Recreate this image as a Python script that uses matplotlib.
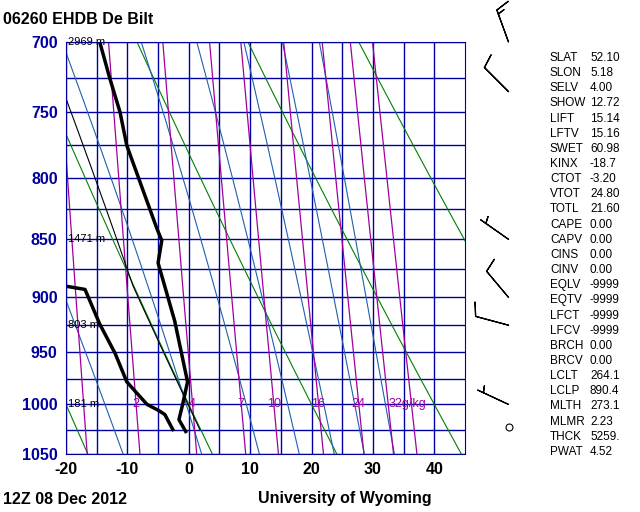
import numpy as np
import matplotlib
matplotlib.use('Agg')
import matplotlib.pyplot as plt
from matplotlib.ticker import NullLocator

plt.rcParams['font.family'] = ['Liberation Sans', 'DejaVu Sans']

# sounding (hPa, degC)
t_pres = [1027, 1015, 1000, 978, 921, 870, 851, 841, 775, 750, 725, 700]
t_temp = [-0.5, -1.6, -1.0, -0.2, -2.3, -5.0, -4.4, -5.2, -10.1, -11.2, -12.9, -14.5]
td_pres = [1025, 1010, 1006, 1000, 990, 978, 951, 924, 893, 890, 888]
td_temp = [-2.6, -3.9, -4.9, -6.8, -8.3, -10.1, -12.0, -14.5, -16.9, -20.2, -30.0]

# parcel
sfc_p, sfc_t, lcl_p = 1025, 1.8, 890.4

height_pres = [700, 850, 925, 1000]
height_text = ['2969 m', '1471 m', '803 m', '181 m']

wind_pres = [700, 735, 850, 900, 925, 1000]
wind_dir = [340, 315, 305, 320, 285, 295]
wind_spd = [15, 10, 5, 10, 10, 5]
calm_pres = 1022

theta_c = [-40, -20, 0, 20, 40, 60, 80]          # dry adiabats
moist_start = [-10.7, 2.1, 11.5, 18.0, 23.7, 28.6, 33.5]  # moist adiabats, T at 1050
mix_ratios = [1, 2, 4, 7, 10, 16, 24, 32, 40]      # g/kg
mix_labels = [2, 4, 7, 10, 16, 24, 32]

indices = ['SLAT', 'SLON', 'SELV', 'SHOW', 'LIFT', 'LFTV', 'SWET', 'KINX', 'CTOT',
           'VTOT', 'TOTL', 'CAPE', 'CAPV', 'CINS', 'CINV', 'EQLV', 'EQTV', 'LFCT',
           'LFCV', 'BRCH', 'BRCV', 'LCLT', 'LCLP', 'MLTH', 'MLMR', 'THCK', 'PWAT']
values = ['52.10', '5.18', '4.00', '12.72', '15.14', '15.16', '60.98', '-18.7', '-3.20',
          '24.80', '21.60', '0.00', '0.00', '0.00', '0.00', '-9999', '-9999', '-9999',
          '-9999', '0.00', '0.00', '264.1', '890.4', '273.1', '2.23', '5259.', '4.52']

NAVY = '#0000a0'
Rd, cp, Lv, eps = 287.04, 1005.7, 2.501e6, 0.622


def rsat(tc, p):
    e = 6.112 * np.exp(17.67 * tc / (tc + 243.5))
    return eps * e / (p - e)


def moist_line(t0, p0, p1, n=400):
    ps = np.linspace(p0, p1, n)
    ts = [t0]
    for i in range(1, n):
        T = ts[-1] + 273.15
        rs = rsat(ts[-1], ps[i - 1])
        dtdp = (Rd * T + Lv * rs) / (ps[i - 1] * (cp + Lv**2 * rs * eps / (Rd * T**2)))
        ts.append(ts[-1] + dtdp * (ps[i] - ps[i - 1]))
    return ps, np.array(ts)


fig = plt.figure(figsize=(6.4, 5.12), dpi=100)
ax = fig.add_axes([66/640, 1-454/512, 399/640, 412/512])
ax.set_yscale('log')
ax.set_ylim(1050, 700)
ax.set_xlim(-20, 45)

p = np.linspace(1050, 700, 200)
for th in theta_c:
    ax.plot((th + 273.15) * (p / 1000) ** 0.286 - 273.15, p, color='#008000', lw=0.8)
for t0 in moist_start:
    pm, tm = moist_line(t0, 1050, 700)
    ax.plot(tm, pm, color='#1f5fb0', lw=0.8)
for w in mix_ratios:
    e = w / 1000 * p / (eps + w / 1000)
    a = np.log(e / 6.112)
    ax.plot(243.5 * a / (17.67 - a), p, color='#a000a0', lw=0.9)
for w in mix_labels:
    e = w / 1000 * 1000 / (eps + w / 1000)
    a = np.log(e / 6.112)
    txt = '%d' % w if w != 32 else '32g/kg'
    ax.text(243.5 * a / (17.67 - a), 1000, txt, color='#a000a0', fontsize=9,
            ha='center' if w != 32 else 'left', va='center')

# parcel path
pd_ = np.linspace(sfc_p, lcl_p, 50)
td_ = (sfc_t + 273.15) * (pd_ / sfc_p) ** 0.286 - 273.15
pm, tm = moist_line(td_[-1], lcl_p, 700)
ax.plot(np.concatenate([td_, tm]), np.concatenate([pd_, pm]), color='black', lw=0.8)

ax.plot(t_temp, t_pres, color='black', lw=2.5)
ax.plot(td_temp, td_pres, color='black', lw=2.5)

for hp, ht in zip(height_pres, height_text):
    ax.text(-19.7, hp, ht, fontsize=8, va='center', ha='left')

ax.set_yticks(range(700, 1051, 25))
ax.yaxis.set_minor_locator(NullLocator())
ax.grid(True, color=NAVY, lw=1)
ax.set_xticks(range(-20, 45, 5))
ax.set_xticklabels([str(v) if v % 10 == 0 else '' for v in range(-20, 45, 5)],
                   fontsize=11.5, fontweight='bold')
ax.set_yticklabels([str(v) if v % 50 == 0 else '' for v in range(700, 1051, 25)],
                   fontsize=11.5, fontweight='bold', color=NAVY)
ax.tick_params(length=0, pad=6)
for s in ax.spines.values():
    s.set_color(NAVY)

# wind barbs
bx = fig.add_axes([470/640, 1-454/512, 70/640, 412/512])
bx.set_yscale('log')
bx.set_ylim(1050, 700)
bx.set_xlim(0, 1)
bx.axis('off')
d = np.radians(wind_dir)
u = -np.array(wind_spd) * np.sin(d)
v = -np.array(wind_spd) * np.cos(d)
bx.barbs([0.55] * len(wind_pres), wind_pres, u, v, length=7, lw=0.9,
         clip_on=False)
bx.plot([0.55], [calm_pres], 'o', mfc='white', mec='black', ms=5, mew=0.8)

for i, (k, val) in enumerate(zip(indices, values)):
    y = 1 - (58 + i * 15.15) / 512
    fig.text(550/640, y, k, fontsize=8.5, va='center')
    fig.text(590/640, y, val, fontsize=8.5, va='center')

fig.text(3/640, 1-20/512, '06260 EHDB De Bilt', fontsize=11.5, fontweight='bold', va='center')
fig.text(3/640, 1-499/512, '12Z 08 Dec 2012', fontsize=11.5, fontweight='bold', va='center')
fig.text(258/640, 1-499/512, 'University of Wyoming', fontsize=11.5, fontweight='bold', va='center')

fig.savefig('out.png', dpi=100)
